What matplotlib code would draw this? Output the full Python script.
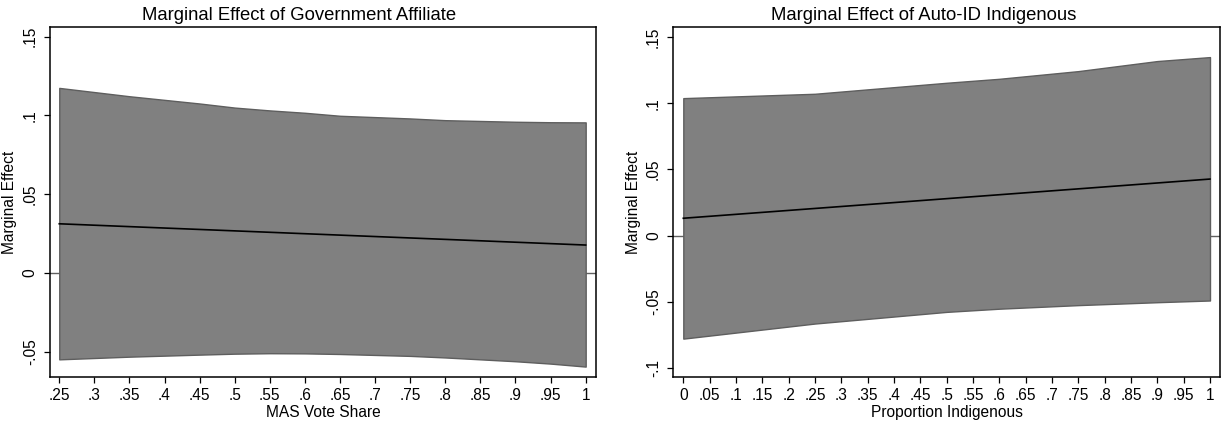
import numpy as np
import matplotlib
matplotlib.use("Agg")
import matplotlib.pyplot as plt

plt.rcParams['font.family'] = ['Liberation Sans', 'DejaVu Sans']

# Left panel: Government Affiliate vs MAS Vote Share
mas_x = [0.25, 0.35, 0.45, 0.5, 0.55, 0.6, 0.65, 0.75, 0.8, 0.85, 0.9, 0.95, 1.0]
mas_upper = [0.1175, 0.1122, 0.1076, 0.105, 0.1032, 0.1017, 0.0998, 0.0981, 0.097, 0.0965, 0.096, 0.0957, 0.0956]
mas_lower = [-0.0549, -0.0532, -0.0519, -0.0513, -0.0510, -0.0511, -0.0515, -0.0527, -0.0537, -0.0549, -0.0561, -0.0576, -0.0595]
mas_line_x = [0.25, 1.0]
mas_line_y = [0.0312, 0.0177]
mas_xticks = [0.25, 0.3, 0.35, 0.4, 0.45, 0.5, 0.55, 0.6, 0.65, 0.7, 0.75, 0.8, 0.85, 0.9, 0.95, 1.0]
mas_xticklabels = [".25", ".3", ".35", ".4", ".45", ".5", ".55", ".6", ".65", ".7", ".75", ".8", ".85", ".9", ".95", "1"]
mas_yticks = [-0.05, 0, 0.05, 0.1, 0.15]
mas_yticklabels = ["-.05", "0", ".05", ".1", ".15"]

# Right panel: Auto-ID Indigenous vs Proportion Indigenous
ind_x = [0.0, 0.25, 0.5, 0.6, 0.75, 0.9, 1.0]
ind_upper = [0.1038, 0.1071, 0.1154, 0.1184, 0.1242, 0.1318, 0.1348]
ind_lower = [-0.0778, -0.0664, -0.0576, -0.0552, -0.0525, -0.0503, -0.0490]
ind_line_x = [0.0, 1.0]
ind_line_y = [0.0131, 0.0427]
ind_xticks = [i * 0.05 for i in range(21)]
ind_xticklabels = ["0", ".05", ".1", ".15", ".2", ".25", ".3", ".35", ".4", ".45", ".5",
                   ".55", ".6", ".65", ".7", ".75", ".8", ".85", ".9", ".95", "1"]
ind_yticks = [-0.1, -0.05, 0, 0.05, 0.1, 0.15]
ind_yticklabels = ["-.1", "-.05", "0", ".05", ".1", ".15"]

W, H = 1225, 428
fig = plt.figure(figsize=(W / 100, H / 100), dpi=100)
ax1 = fig.add_axes([50 / W, 1 - 377.3 / H, 546 / W, 350.8 / H])
ax2 = fig.add_axes([673.3 / W, 1 - 377.3 / H, 546.7 / W, 350.8 / H])

def style(ax, x, up, lo, lx, ly, xt, xtl, yt, ytl, xlim, ylim, xlabel):
    ax.axhline(0, color='#606060', lw=1.0, zorder=1)
    ax.fill_between(x, lo, up, facecolor='#808080', edgecolor='#5e5e5e', lw=1.0, zorder=2)
    ax.plot(lx, ly, color='black', lw=1.2, zorder=3)
    ax.set_xlim(*xlim)
    ax.set_ylim(*ylim)
    ax.set_xticks(xt)
    ax.set_xticklabels(xtl, fontsize=11.2)
    ax.set_yticks(yt)
    ax.set_yticklabels(ytl, fontsize=11.2, rotation=90, va='center')
    ax.tick_params(axis='x', direction='out', length=4.6, width=0.9, color='black', pad=3.2)
    ax.tick_params(axis='y', direction='out', length=4.3, width=0.9, color='black', pad=4.5)
    for s in ax.spines.values():
        s.set_linewidth(1.1)
        s.set_color('black')
    ax.set_xlabel(xlabel, fontsize=11.2, labelpad=1)
    ax.set_ylabel("Marginal Effect", fontsize=11.2, labelpad=4)

style(ax1, mas_x, mas_upper, mas_lower, mas_line_x, mas_line_y, mas_xticks, mas_xticklabels,
      mas_yticks, mas_yticklabels, (0.2368, 1.0147), (-0.0663, 0.1565), "MAS Vote Share")
style(ax2, ind_x, ind_upper, ind_lower, ind_line_x, ind_line_y, ind_xticks, ind_xticklabels,
      ind_yticks, ind_yticklabels, (-0.019, 1.019), (-0.107, 0.1579), "Proportion Indigenous")

fig.text(299 / W, 1 - 19.5 / H, "Marginal Effect of Government Affiliate",
         fontsize=13.3, ha='center', va='baseline')
fig.text(923.7 / W, 1 - 19.5 / H, "Marginal Effect of Auto-ID Indigenous",
         fontsize=13.3, ha='center', va='baseline')

fig.savefig("out.png", dpi=100, facecolor='white')
